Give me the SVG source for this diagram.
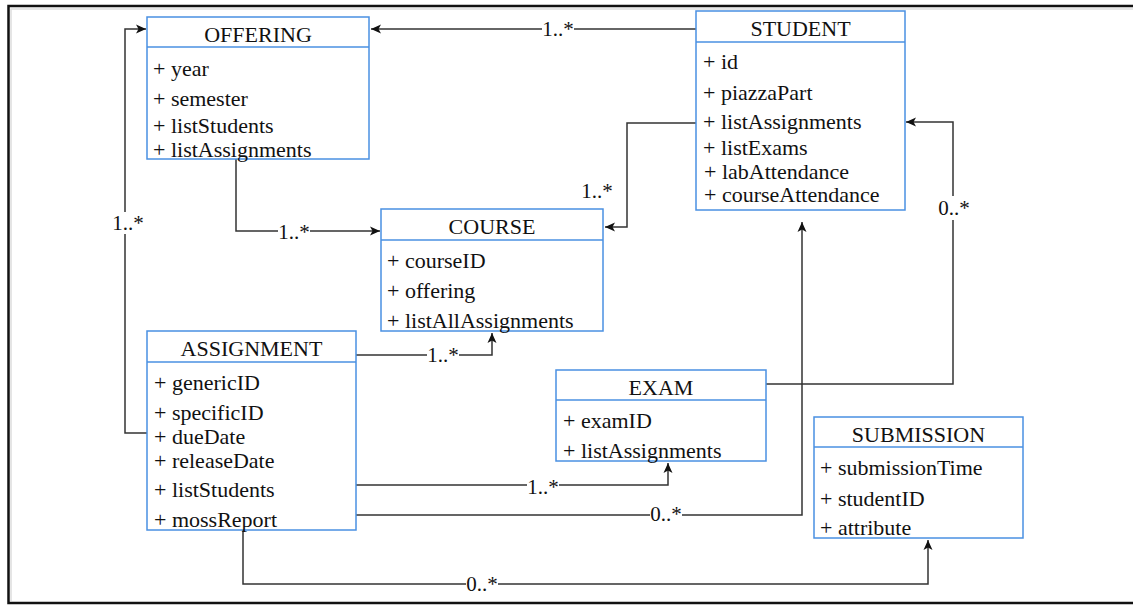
<svg xmlns="http://www.w3.org/2000/svg" width="1133" height="605" viewBox="0 0 1133 605">
<style>
.box{fill:#fff;stroke:#4a90e2;stroke-width:1.5}
.div{stroke:#4a90e2;stroke-width:1.5}
.t{font-family:"Liberation Serif","Times New Roman",serif;font-size:22px;fill:#111}
.title{text-anchor:middle}
.edge{fill:none;stroke:#333;stroke-width:1.5;marker-end:url(#arr)}
.lbl{font-family:"Liberation Serif","Times New Roman",serif;font-size:21px;fill:#111;text-anchor:middle}
.bg{fill:#fff}
</style>
<defs>
<marker id="arr" markerUnits="userSpaceOnUse" markerWidth="12" markerHeight="10" refX="11" refY="5" orient="auto">
<path d="M1,0.5 L11,5 L1,9.5 L3.5,5 z" fill="#111"/>
</marker>
</defs>
<rect x="0" y="0" width="1133" height="605" fill="#fff"/>
<path d="M1140,6 H8.5 V603 H1140" fill="none" stroke="#111" stroke-width="2.5"/>
<path d="M1140,9 H11 V601" fill="none" stroke="#ddd" stroke-width="1.5"/>

<g id="connectors">
<path class="edge" d="M696,29 H371"/>
<path class="edge" d="M696,123 H627 V227 H605"/>
<path class="edge" d="M236,159 V231 H380"/>
<path class="edge" d="M147,433 H125 V29 H146"/>
<path class="edge" d="M356,355 H492 V333"/>
<path class="edge" d="M356,485 H668 V463"/>
<path class="edge" d="M356,515 H802 V222"/>
<path class="edge" d="M766,384 H953 V122 H906"/>
<path class="edge" d="M243,530 V584 H928 V540"/>
<rect class="bg" x="542" y="20" width="32" height="18"/>
<text class="lbl" x="558" y="36">1..*</text>
<text class="lbl" x="597" y="198">1..*</text>
<rect class="bg" x="278" y="222" width="32" height="18"/>
<text class="lbl" x="294" y="239">1..*</text>
<rect class="bg" x="112" y="212" width="32" height="22"/>
<text class="lbl" x="128" y="230">1..*</text>
<rect class="bg" x="427" y="346" width="32" height="18"/>
<text class="lbl" x="443" y="362">1..*</text>
<rect class="bg" x="527" y="476" width="32" height="18"/>
<text class="lbl" x="543" y="494">1..*</text>
<rect class="bg" x="650" y="506" width="32" height="18"/>
<text class="lbl" x="666" y="521">0..*</text>
<rect class="bg" x="938" y="196" width="32" height="24"/>
<text class="lbl" x="954" y="215">0..*</text>
<rect class="bg" x="466" y="575" width="32" height="18"/>
<text class="lbl" x="482" y="591">0..*</text>
</g>

<g id="offering">
<rect class="box" x="147" y="17" width="222" height="142"/>
<line class="div" x1="147" y1="47" x2="369" y2="47"/>
<text class="t title" x="258" y="42">OFFERING</text>
<text class="t" x="153" y="76">+ year</text>
<text class="t" x="153" y="106">+ semester</text>
<text class="t" x="153" y="133">+ listStudents</text>
<text class="t" x="153" y="157">+ listAssignments</text>
</g>

<g id="student">
<rect class="box" x="696" y="11" width="209" height="199"/>
<line class="div" x1="696" y1="42" x2="905" y2="42"/>
<text class="t title" x="800.5" y="36">STUDENT</text>
<text class="t" x="703" y="69">+ id</text>
<text class="t" x="703" y="100">+ piazzaPart</text>
<text class="t" x="703" y="129">+ listAssignments</text>
<text class="t" x="703" y="155">+ listExams</text>
<text class="t" x="704" y="179">+ labAttendance</text>
<text class="t" x="704" y="202">+ courseAttendance</text>
</g>

<g id="course">
<rect class="box" x="381" y="209" width="222" height="122"/>
<line class="div" x1="381" y1="240" x2="603" y2="240"/>
<text class="t title" x="492" y="234">COURSE</text>
<text class="t" x="387" y="268">+ courseID</text>
<text class="t" x="387" y="298">+ offering</text>
<text class="t" x="387" y="328">+ listAllAssignments</text>
</g>

<g id="assignment">
<rect class="box" x="147" y="331" width="209" height="199"/>
<line class="div" x1="147" y1="362" x2="356" y2="362"/>
<text class="t title" x="251.5" y="356">ASSIGNMENT</text>
<text class="t" x="154" y="390">+ genericID</text>
<text class="t" x="154" y="420">+ specificID</text>
<text class="t" x="154" y="444">+ dueDate</text>
<text class="t" x="154" y="468">+ releaseDate</text>
<text class="t" x="154" y="497">+ listStudents</text>
<text class="t" x="154" y="527">+ mossReport</text>
</g>

<g id="exam">
<rect class="box" x="556" y="370" width="210" height="91"/>
<line class="div" x1="556" y1="400" x2="766" y2="400"/>
<text class="t title" x="661" y="395">EXAM</text>
<text class="t" x="563" y="428">+ examID</text>
<text class="t" x="563" y="458">+ listAssignments</text>
</g>

<g id="submission">
<rect class="box" x="814" y="417" width="209" height="121"/>
<line class="div" x1="814" y1="447" x2="1023" y2="447"/>
<text class="t title" x="918.5" y="442">SUBMISSION</text>
<text class="t" x="820" y="475">+ submissionTime</text>
<text class="t" x="820" y="506">+ studentID</text>
<text class="t" x="820" y="535">+ attribute</text>
</g>
</svg>
